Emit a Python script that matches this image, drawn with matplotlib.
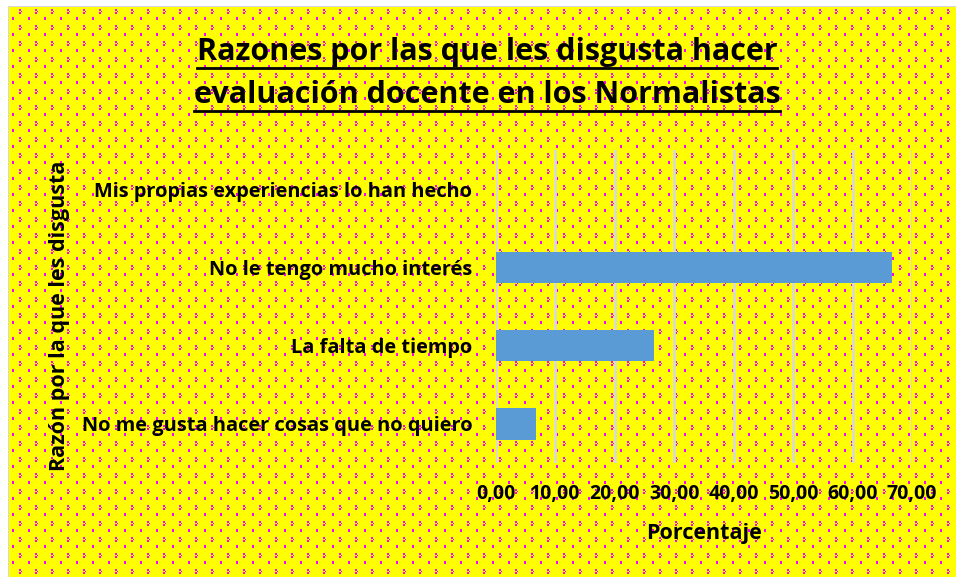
import numpy as np
import matplotlib
matplotlib.use("Agg")
import matplotlib.pyplot as plt
from matplotlib.lines import Line2D

# data
razones = ["No me gusta hacer cosas que no quiero",
           "La falta de tiempo",
           "No le tengo mucho interés",
           "Mis propias experiencias lo han hecho"]
porcentaje = [6.67, 26.67, 66.67, 0.0]
xticks = [0, 10, 20, 30, 40, 50, 60, 70]
xtick_labels = ["0,00", "10,00", "20,00", "30,00", "40,00", "50,00", "60,00", "70,00"]

W, H = 956, 577
fig = plt.figure(figsize=(W / 100, H / 100), dpi=100)
plt.rcParams['font.family'] = ['Open Sans', 'DejaVu Sans']

# patterned background (yellow with magenta dots)
yellow = np.array([255, 255, 0], dtype=np.uint8)
magenta = np.array([255, 0, 255], dtype=np.uint8)
tile = np.tile(yellow, (16, 16, 1))
tile[0:2, 0:2] = magenta
tile[2, 2] = magenta
tile[3:5, 0:2] = magenta
tile[8:11, 9:11] = magenta
bg = np.tile(tile, (H // 16 + 2, W // 16 + 2, 1))
bg = np.roll(bg, (9, 3), axis=(0, 1))[:H, :W].copy()
bg[:6, :] = 255
bg[:, :8] = 255
bg[6, 8:] = 215
bg[6:, 8] = 215
fig.figimage(bg, xo=0, yo=0, origin='upper', zorder=-10)

def fx(px):
    return px / W

def fy(py):
    return 1 - py / H

ax = fig.add_axes([fx(496), fy(463), fx(912) - fx(496), fy(150) - fy(463)])
ax.set_zorder(5)
ax.patch.set_alpha(0)
y = np.arange(len(razones))
ax.barh(y, porcentaje, height=0.4, color='#5B9BD5', zorder=3)
ax.set_xlim(0, 70)
ax.set_ylim(-0.5, len(razones) - 0.5)
ax.set_xticks(xticks)
ax.set_xticklabels(xtick_labels, fontsize=14, fontweight='bold')
ax.set_yticks(y)
ax.set_yticklabels(razones, fontsize=14.4, fontweight='bold')
ax.tick_params(axis='both', length=0)
ax.tick_params(axis='x', pad=15)
ax.tick_params(axis='y', pad=17)
ax.grid(axis='x', color='#d9d9d9', linewidth=2, zorder=1)
for s in ax.spines.values():
    s.set_visible(False)

fig.text(fx(704), fy(533), "Porcentaje", ha='center', va='center',
         fontsize=15.5, fontweight='bold', zorder=6)
fig.text(fx(60), fy(316), "Razón por la que les disgusta", ha='center', va='center',
         rotation=90, fontsize=15.5, fontweight='bold', zorder=6)

t1 = fig.text(fx(487), fy(52), "Razones por las que les disgusta hacer",
              ha='center', va='center', fontsize=22, fontweight='bold', zorder=6)
t2 = fig.text(fx(487), fy(95), "evaluación docente en los Normalistas",
              ha='center', va='center', fontsize=22, fontweight='bold', zorder=6)

# underline the title lines
fig.canvas.draw()
r = fig.canvas.get_renderer()
for t, uy in [(t1, 68), (t2, 111)]:
    bb = t.get_window_extent(r)
    fig.add_artist(Line2D([bb.x0 / W, bb.x1 / W], [fy(uy), fy(uy)],
                          transform=fig.transFigure, color='black', linewidth=2,
                          zorder=6))

fig.savefig("out.png", dpi=100)
